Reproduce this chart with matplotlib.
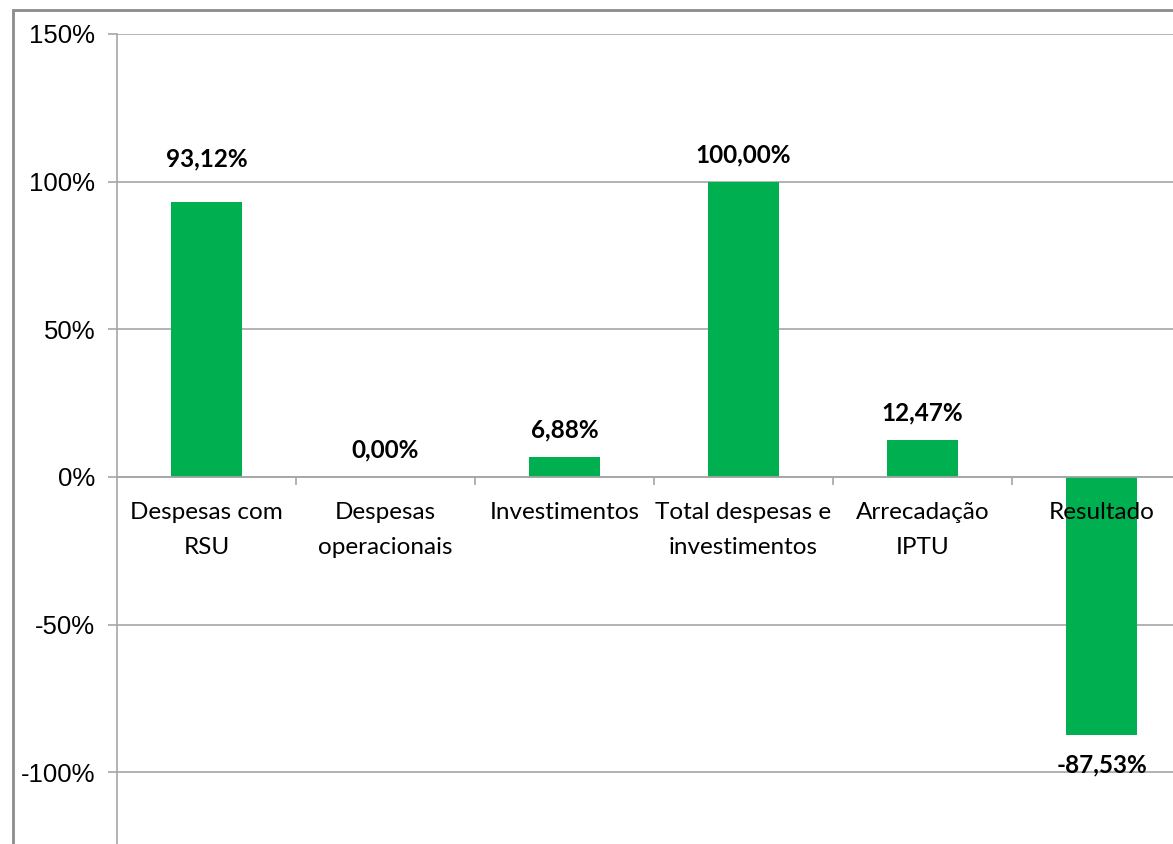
import matplotlib.pyplot as plt
from matplotlib.patches import Rectangle
from matplotlib.ticker import FixedLocator, FuncFormatter

categories = ['Despesas com\nRSU', 'Despesas\noperacionais', 'Investimentos',
              'Total despesas e\ninvestimentos', 'Arrecadação\nIPTU', 'Resultado']
values = [93.12, 0.00, 6.88, 100.00, 12.47, -87.53]
y_ticks = [-100, -50, 0, 50, 100, 150]

green = '#00B050'
grid_gray = '#A6A6A6'

fig = plt.figure(figsize=(11.73, 8.44), dpi=100)
W, H = 1173, 844

# plot area runs past the right and bottom edges of the canvas
left, right = 117, 1191
top, bottom = 34, 846
ax = fig.add_axes([left / W, (H - bottom) / H, (right - left) / W, (bottom - top) / H])

x = list(range(len(categories)))
ax.bar(x, values, width=0.4, color=green, zorder=2)

ax.set_xlim(-0.5, len(categories) - 0.5)
ax.set_ylim(-125, 150)

ax.set_yticks(y_ticks)
ax.yaxis.set_major_formatter(FuncFormatter(lambda v, _: f'{v:.0f}%'))
ax.grid(axis='y', color=grid_gray, linewidth=1.2, zorder=0)
ax.tick_params(axis='y', length=6.5, width=1.2, color=grid_gray, pad=9,
               labelsize=18.5, labelfontfamily='Liberation Sans')

# no x tick labels on the axis; boundaries get small ticks on the zero line
ax.set_xticks([])
ax.xaxis.set_minor_locator(FixedLocator([i + 0.5 for i in x[:-1]]))
ax.tick_params(axis='x', which='minor', length=6, width=1.2, color=grid_gray)

# category labels sit just under the zero line
for i, name in enumerate(categories):
    ax.annotate(name, xy=(i, 0), xycoords='data', xytext=(0, -18),
                textcoords='offset points', ha='center', va='top',
                fontfamily='Lato', fontsize=17.5, linespacing=1.85, zorder=5)

# bar value labels
for i, v in enumerate(values):
    offset = 11 if v >= 0 else -13
    if i == 0:
        offset = 23
    ax.annotate(f'{v:.2f}%'.replace('.', ','), xy=(i, v), xytext=(0, offset),
                textcoords='offset points', ha='center',
                va='bottom' if v >= 0 else 'top',
                fontfamily='Lato', fontweight='bold', fontsize=17.5, zorder=5)

for side in ['top', 'right']:
    ax.spines[side].set_visible(False)
ax.spines['left'].set_color(grid_gray)
ax.spines['left'].set_linewidth(1.2)
ax.spines['left'].set_zorder(3)

# zero line carries the boundary ticks
ax.spines['bottom'].set_position(('data', 0))
ax.spines['bottom'].set_color(grid_gray)
ax.spines['bottom'].set_linewidth(1.2)
ax.spines['bottom'].set_zorder(3)

# outer frame of the chart area
fig.patches.append(Rectangle((13 / W, -0.1), 1.2, (H - 10) / H + 0.1,
                             transform=fig.transFigure, fill=False,
                             edgecolor='#8C8C8C', linewidth=2))

fig.savefig('out.png', dpi=100)
